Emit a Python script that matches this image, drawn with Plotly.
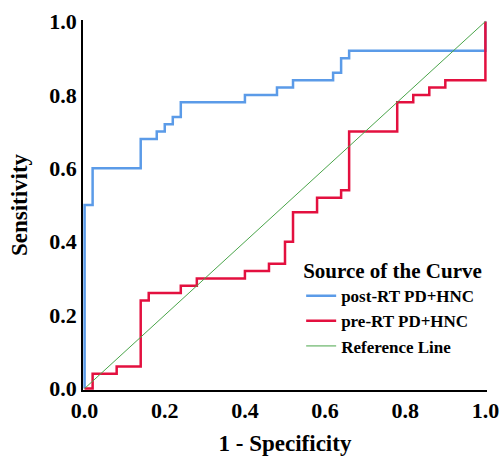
import plotly.graph_objects as go

# ROC curve corner points (1 - specificity, sensitivity)
post_fpr = [0.00, 0.00, 0.02, 0.14, 0.18, 0.20, 0.22, 0.24, 0.40, 0.48, 0.52, 0.62, 0.64, 0.66, 1.00, 1.00]
post_tpr = [0.00, 0.50, 0.60, 0.68, 0.70, 0.72, 0.74, 0.78, 0.80, 0.82, 0.84, 0.86, 0.90, 0.92, 0.92, 1.00]

pre_fpr = [0.00, 0.02, 0.08, 0.14, 0.16, 0.24, 0.28, 0.40, 0.46, 0.50, 0.52, 0.58, 0.64, 0.66, 0.78, 0.82, 0.86, 0.90, 1.00, 1.00]
pre_tpr = [0.00, 0.04, 0.06, 0.24, 0.26, 0.28, 0.30, 0.32, 0.34, 0.40, 0.48, 0.52, 0.54, 0.70, 0.78, 0.80, 0.82, 0.84, 0.84, 1.00]

ref_x = [0.0, 1.0]
ref_y = [0.0, 1.0]

tick_vals = [0.0, 0.2, 0.4, 0.6, 0.8, 1.0]
tick_text = ["<b>0.0</b>", "<b>0.2</b>", "<b>0.4</b>", "<b>0.6</b>", "<b>0.8</b>", "<b>1.0</b>"]

FONT = "'Liberation Serif', 'Times New Roman', serif"

fig = go.Figure()
fig.add_trace(go.Scatter(x=post_fpr, y=post_tpr, mode="lines", line=dict(color="#5b9be8", width=2.5, shape="hv"),
                         name="<b>post-RT PD+HNC</b>"))
fig.add_trace(go.Scatter(x=pre_fpr, y=pre_tpr, mode="lines", line=dict(color="#e3103f", width=2.5, shape="hv"),
                         name="<b>pre-RT PD+HNC</b>"))
fig.add_trace(go.Scatter(x=ref_x, y=ref_y, mode="lines", line=dict(color="#4aa54a", width=1),
                         name="<b>Reference Line</b>"))

axis_common = dict(
    showgrid=False, zeroline=False, showline=True, linecolor="black", linewidth=1.5,
    ticks="", tickvals=tick_vals, ticktext=tick_text, layer="below traces", automargin=False,
    tickfont=dict(family=FONT, size=22, color="black"),
    range=[-0.004, 1.004],
)

fig.update_layout(
    width=504, height=456,
    margin=dict(l=83, r=17, t=20, b=66),
    plot_bgcolor="white", paper_bgcolor="white",
    xaxis=dict(**axis_common, title=dict(text="<b>1 - Specificity</b>", standoff=14,
               font=dict(family=FONT, size=23, color="black"))),
    yaxis=dict(**axis_common, title=dict(text="<b>Sensitivity</b>", standoff=15,
               font=dict(family=FONT, size=23, color="black"))),
    legend=dict(
        x=0.54, y=0.376, xanchor="left", yanchor="top",
        bgcolor="rgba(0,0,0,0)",
        title=dict(text="<b>Source of the Curve</b>", font=dict(family=FONT, size=21, color="black")),
        font=dict(family=FONT, size=17, color="black"),
        tracegroupgap=0,
    ),
    showlegend=True,
)

fig.write_html("out.html", config={"displayModeBar": False},
               post_script="document.body.style.margin='0';document.body.style.overflow='hidden';")
